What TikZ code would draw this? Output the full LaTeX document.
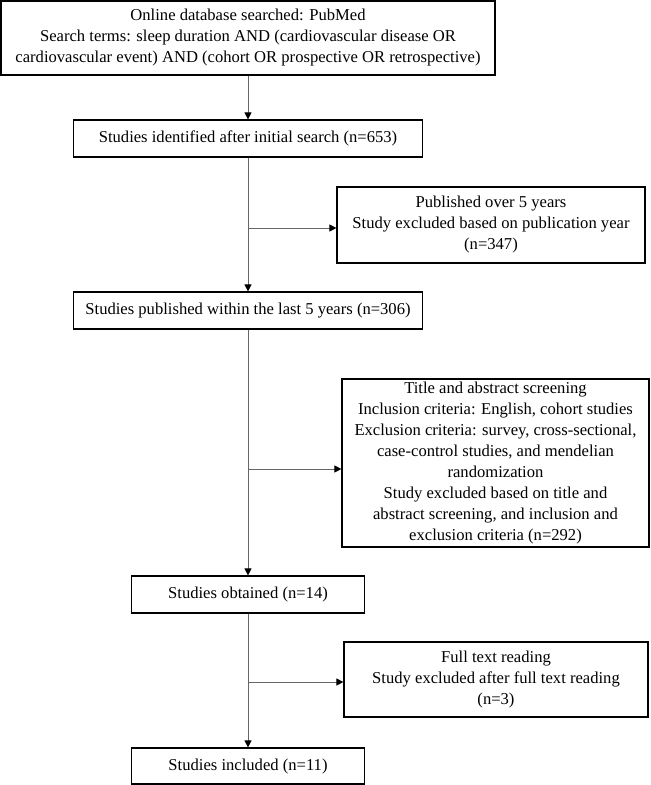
\documentclass[tikz,border=0pt]{standalone}
\usepackage{fontspec}
\setmainfont{Liberation Serif}
\usetikzlibrary{arrows.meta}
\begin{document}
\begin{tikzpicture}[x=1pt,y=-1pt,
  box/.style={draw=black, line width=1.2pt, align=center, inner sep=0pt,
    font=\fontsize{16.6}{21}\selectfont, text=black},
  link/.style={draw=black!60, line width=1pt},
  arr/.style={link, -{Triangle[length=7pt,width=7pt,color=black]}}]
\useasboundingbox (0,0) rectangle (651,785);
\node[box, minimum width=494pt, minimum height=74pt] (b1) at (248,38)
  {Online database searched: PubMed\\
   Search terms: sleep duration AND (cardiovascular disease OR\\
   cardiovascular event) AND (cohort OR prospective OR retrospective)};
\node[box, minimum width=349pt, minimum height=37pt] (b2) at (248,138.5)
  {Studies identified after initial search (n=653)};
\node[box, minimum width=308pt, minimum height=76pt] (b3) at (491,225)
  {Published over 5 years\\
   Study excluded based on publication year\\
   (n=347)};
\node[box, minimum width=349pt, minimum height=37pt] (b4) at (248,310.5)
  {Studies published within the last 5 years (n=306)};
\node[box, minimum width=307pt, minimum height=168pt] (b5) at (495.5,463)
  {Title and abstract screening\\
   Inclusion criteria: English, cohort studies\\
   Exclusion criteria: survey, cross-sectional,\\
   case-control studies, and mendelian\\
   randomization\\
   Study excluded based on title and\\
   abstract screening, and inclusion and\\
   exclusion criteria (n=292)};
\node[box, minimum width=233pt, minimum height=37pt] (b6) at (248,594.5)
  {Studies obtained (n=14)};
\node[box, minimum width=304pt, minimum height=75pt] (b7) at (496,679.5)
  {Full text reading\\
   Study excluded after full text reading\\
   (n=3)};
\node[box, minimum width=233pt, minimum height=36pt] (b8) at (248,766)
  {Studies included (n=11)};
\coordinate (j1) at (248,228);
\coordinate (j2) at (248,469);
\coordinate (j3) at (248,682);
\draw[arr] (b1.south) -- (b2.north);
\draw[arr] (b2.south) -- (b4.north);
\draw[arr] (j1) -- (j1 -| b3.west);
\draw[arr] (b4.south) -- (b6.north);
\draw[arr] (j2) -- (j2 -| b5.west);
\draw[arr] (b6.south) -- (b8.north);
\draw[arr] (j3) -- (j3 -| b7.west);
\end{tikzpicture}
\end{document}
